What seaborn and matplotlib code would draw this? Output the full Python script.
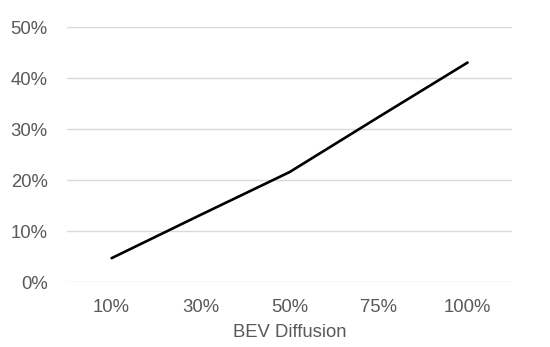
import matplotlib
matplotlib.use("Agg")
import matplotlib.pyplot as plt
import pandas as pd
import seaborn as sns

diffusion = ["10%", "30%", "50%", "75%", "100%"]
share = [4.7, 13.2, 21.6, 32.4, 43.1]
y_ticks = [0, 10, 20, 30, 40, 50]

df = pd.DataFrame({"BEV Diffusion": diffusion, "share": share})

sns.set_style("white")
plt.rcParams["font.family"] = ["Liberation Sans", "DejaVu Sans"]

fig = plt.figure(figsize=(5.5, 3.47), dpi=100)
ax = fig.add_axes([0.122, 0.187, 0.809, 0.734])

sns.lineplot(data=df, x="BEV Diffusion", y="share", color="black",
             linewidth=1.9, sort=False, ax=ax)

ax.set_xlim(-0.5, len(diffusion) - 0.5)
ax.set_ylim(0, 50)
ax.set_yticks(y_ticks)
ax.set_yticklabels([f"{v}%" for v in y_ticks])
for v in y_ticks:
    ax.axhline(v, color="#d9d9d9", linewidth=1.0, zorder=0)

ax.tick_params(axis="both", length=0, labelsize=13.3, colors="#595959")
ax.tick_params(axis="y", pad=14)
ax.tick_params(axis="x", pad=12)
ax.set_xlabel("BEV Diffusion", fontsize=13.3, color="#595959", labelpad=6)
ax.set_ylabel("")
sns.despine(ax=ax, left=True, bottom=True)

fig.savefig("out.png", dpi=100)
